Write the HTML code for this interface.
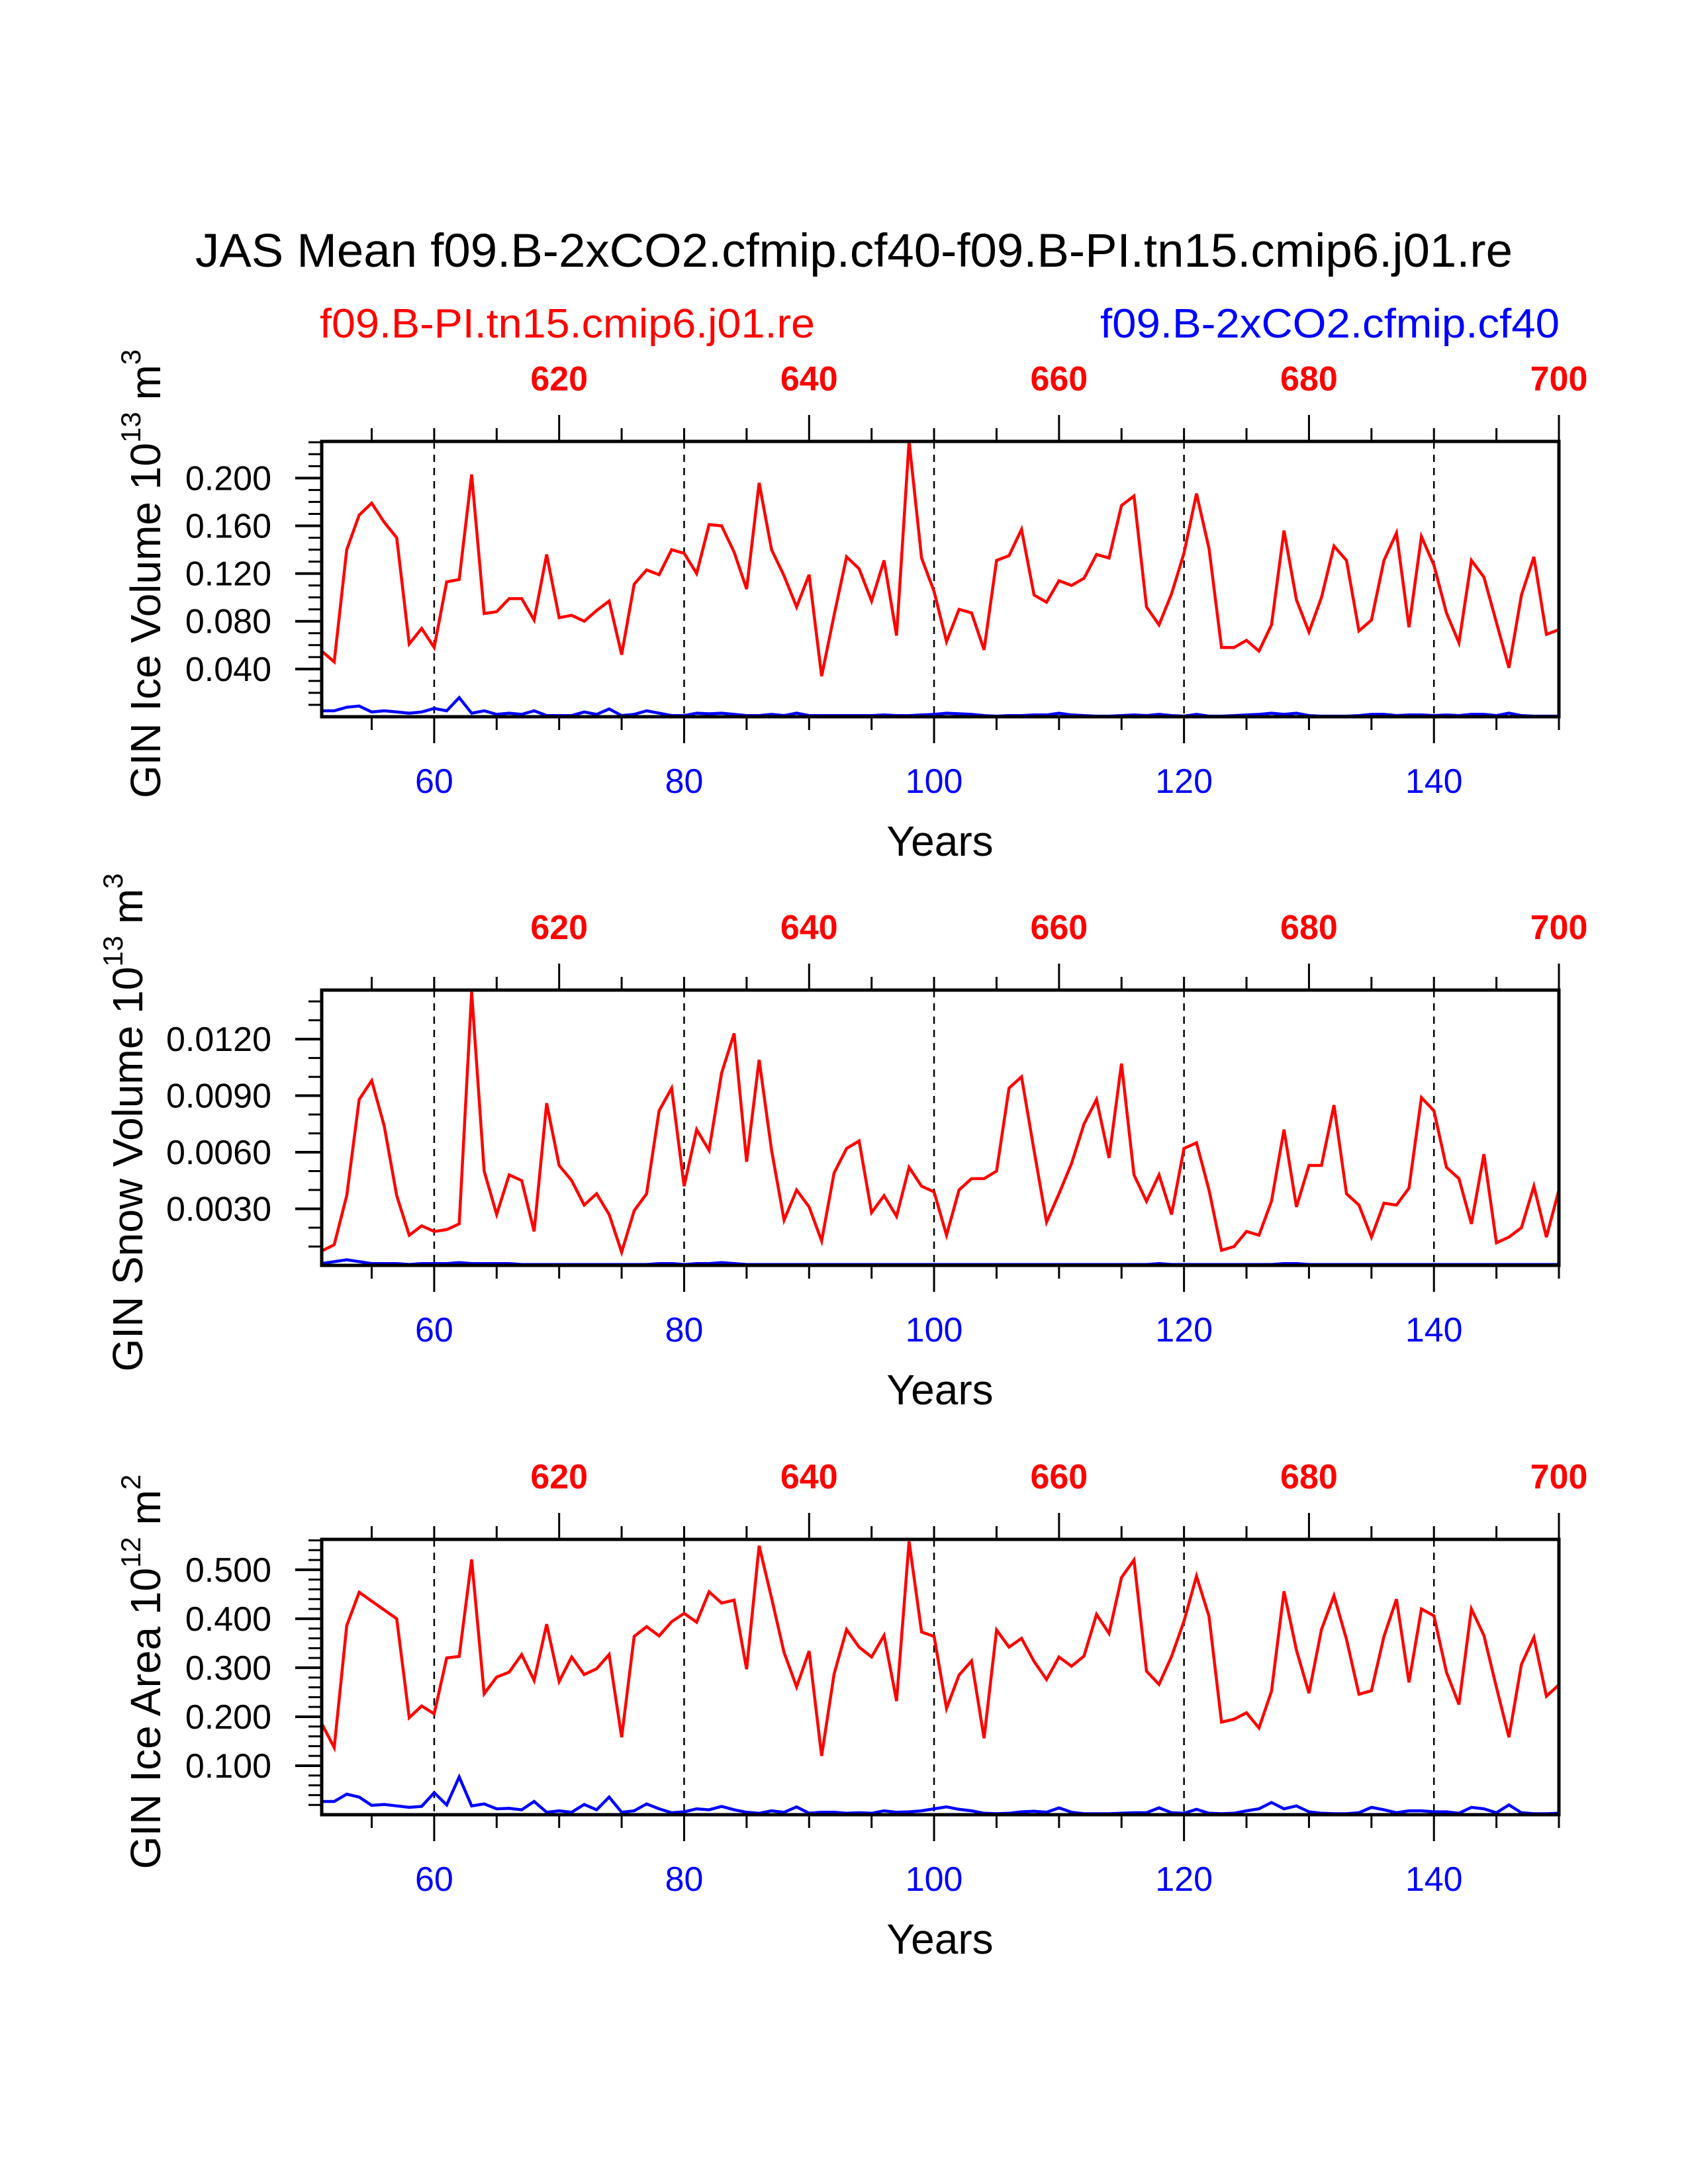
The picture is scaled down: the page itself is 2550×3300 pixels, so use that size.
<!DOCTYPE html>
<html><head><meta charset="utf-8"><style>
html,body{margin:0;padding:0;background:#fff;}
svg{display:block;font-family:"Liberation Sans",sans-serif;}
</style></head><body>
<svg id="chart" width="2550" height="3300" viewBox="0 0 2550 3300" xmlns="http://www.w3.org/2000/svg">
<rect width="2550" height="3300" fill="#fff"/>
<text x="295" y="403" font-size="71" textLength="1990" lengthAdjust="spacingAndGlyphs">JAS Mean f09.B-2xCO2.cfmip.cf40-f09.B-PI.tn15.cmip6.j01.re</text>
<text x="483" y="510" font-size="62" fill="#ff0000" textLength="748" lengthAdjust="spacingAndGlyphs">f09.B-PI.tn15.cmip6.j01.re</text>
<text x="1662" y="510" font-size="62" fill="#0000ff" textLength="694" lengthAdjust="spacingAndGlyphs">f09.B-2xCO2.cfmip.cf40</text>
</svg>
<script>
const years = [51,52,53,54,55,56,57,58,59,60,61,62,63,64,65,66,67,68,69,70,71,72,73,74,75,76,77,78,79,80,81,82,83,84,85,86,87,88,89,90,91,92,93,94,95,96,97,98,99,100,101,102,103,104,105,106,107,108,109,110,111,112,113,114,115,116,117,118,119,120,121,122,123,124,125,126,127,128,129,130,131,132,133,134,135,136,137,138,139,140,141,142,143,144,145,146,147,148,149,150];
const iceVolRed = [0.055,0.046,0.140,0.169,0.179,0.163,0.150,0.061,0.074,0.058,0.113,0.115,0.203,0.0865,0.088,0.099,0.099,0.081,0.136,0.083,0.085,0.080,0.089,0.097,0.052,0.111,0.123,0.119,0.140,0.137,0.120,0.161,0.160,0.138,0.107,0.196,0.140,0.118,0.092,0.119,0.034,0.085,0.134,0.124,0.097,0.131,0.068,0.231,0.133,0.105,0.063,0.090,0.087,0.056,0.131,0.135,0.157,0.102,0.096,0.114,0.110,0.116,0.136,0.133,0.177,0.185,0.092,0.077,0.103,0.137,0.187,0.141,0.058,0.058,0.064,0.055,0.077,0.156,0.098,0.071,0.100,0.143,0.131,0.072,0.081,0.131,0.154,0.075,0.151,0.127,0.087,0.062,0.131,0.117,0.079,0.041,0.102,0.134,0.069,0.073];
const iceVolBlue = [0.005,0.005,0.008,0.009,0.004,0.005,0.004,0.003,0.004,0.007,0.005,0.016,0.003,0.005,0.002,0.003,0.002,0.005,0.001,0.001,0.001,0.004,0.002,0.0065,0.001,0.002,0.005,0.003,0.001,0.001,0.003,0.0025,0.003,0.002,0.001,0.001,0.002,0.001,0.003,0.001,0.001,0.001,0.001,0.001,0.001,0.0015,0.001,0.001,0.0015,0.002,0.003,0.0025,0.002,0.001,0.0005,0.001,0.001,0.0015,0.0015,0.003,0.0015,0.001,0.0005,0.0005,0.001,0.0015,0.001,0.002,0.001,0.0005,0.002,0.0005,0.0005,0.001,0.0015,0.002,0.003,0.002,0.003,0.001,0.0005,0.0005,0.0005,0.001,0.002,0.002,0.001,0.0015,0.0015,0.001,0.0015,0.001,0.002,0.002,0.001,0.003,0.001,0.0005,0.0005,0.0005];
const snowRed = [0.00076,0.0011,0.0037,0.0088,0.0098,0.0074,0.0037,0.0016,0.0021,0.0018,0.0019,0.0022,0.0145,0.0050,0.0027,0.0048,0.0045,0.0018,0.0086,0.0053,0.0045,0.0032,0.0038,0.0027,0.0007,0.0029,0.0038,0.0082,0.0094,0.0042,0.0072,0.0061,0.0102,0.0123,0.0055,0.0109,0.0061,0.0024,0.0040,0.0031,0.0013,0.0049,0.0062,0.0066,0.0028,0.0037,0.0026,0.0052,0.0042,0.0039,0.0016,0.0040,0.0046,0.0046,0.0050,0.0094,0.0100,0.0061,0.0023,0.0038,0.0054,0.0075,0.0088,0.0057,0.0107,0.0048,0.0034,0.0048,0.0027,0.0062,0.0065,0.0040,0.0008,0.0010,0.0018,0.0016,0.0034,0.0072,0.0031,0.0053,0.0053,0.0085,0.0038,0.0032,0.0015,0.0033,0.0032,0.0041,0.0089,0.0082,0.0052,0.0046,0.0022,0.0059,0.0012,0.0015,0.0020,0.0042,0.0015,0.0040];
const snowBlue = [0.0001,0.0002,0.0003,0.0002,0.0001,0.0001,0.0001,0.00005,0.0001,0.0001,0.0001,0.00015,0.0001,0.0001,0.0001,0.0001,0.00005,0.00005,0.00005,0.00005,0.00005,0.00005,0.00005,0.00005,0.00005,0.00005,0.00005,0.0001,0.0001,0.00005,0.0001,0.0001,0.00015,0.0001,0.00005,0.00005,0.00005,0.00005,0.00005,0.00005,0.00005,0.00005,0.00005,0.00005,0.00005,0.00005,0.00005,0.00005,0.00005,0.00005,0.00005,0.00005,0.00005,0.00005,0.00005,0.00005,0.00005,0.00005,0.00005,0.00005,0.00005,0.00005,0.00005,0.00005,0.00005,0.00005,0.00005,0.0001,0.00005,0.00005,0.00005,0.00005,0.00005,0.00005,0.00005,0.00005,0.00005,0.0001,0.0001,0.00005,0.00005,0.00005,0.00005,0.00005,0.00005,0.00005,0.00005,0.00005,0.00005,0.00005,0.00005,0.00005,0.00005,0.00005,0.00005,0.00005,0.00005,0.00005,0.00005,0.00005];
const areaRed = [0.186,0.137,0.386,0.454,0.436,0.418,0.400,0.198,0.222,0.206,0.320,0.323,0.521,0.247,0.281,0.291,0.327,0.274,0.389,0.272,0.322,0.286,0.298,0.327,0.158,0.364,0.384,0.365,0.394,0.411,0.393,0.455,0.432,0.438,0.297,0.549,0.442,0.331,0.261,0.334,0.120,0.287,0.378,0.342,0.322,0.366,0.232,0.558,0.373,0.364,0.217,0.285,0.314,0.156,0.377,0.342,0.360,0.313,0.276,0.322,0.303,0.324,0.409,0.370,0.484,0.520,0.293,0.266,0.323,0.395,0.487,0.405,0.189,0.195,0.208,0.177,0.252,0.456,0.336,0.248,0.378,0.447,0.358,0.246,0.253,0.364,0.440,0.270,0.420,0.406,0.291,0.225,0.420,0.366,0.260,0.158,0.307,0.362,0.242,0.265];
const areaBlue = [0.027,0.027,0.042,0.036,0.019,0.021,0.018,0.015,0.017,0.045,0.020,0.077,0.018,0.022,0.012,0.013,0.010,0.027,0.005,0.008,0.005,0.021,0.010,0.036,0.005,0.008,0.022,0.012,0.004,0.006,0.012,0.010,0.017,0.010,0.005,0.003,0.008,0.005,0.016,0.003,0.005,0.005,0.003,0.004,0.003,0.008,0.005,0.006,0.008,0.012,0.016,0.011,0.008,0.003,0.002,0.003,0.006,0.007,0.005,0.014,0.005,0.002,0.002,0.002,0.003,0.004,0.004,0.014,0.004,0.003,0.011,0.003,0.002,0.003,0.008,0.012,0.025,0.012,0.018,0.006,0.003,0.002,0.002,0.004,0.015,0.010,0.004,0.008,0.008,0.006,0.006,0.003,0.015,0.012,0.004,0.020,0.004,0.002,0.002,0.003];
const bottomTickLabels = [60,80,100,120,140];
const topTickLabels = [620,640,660,680,700];
const iceVolTicks = [0.04,0.08,0.12,0.16,0.20];
const snowTicks = [0.003,0.006,0.009,0.012];
const areaTicks = [0.1,0.2,0.3,0.4,0.5];

const NS = 'http://www.w3.org/2000/svg';
const svg = document.getElementById('chart');
const X0 = 486, X1 = 2355, XMIN = 51, XMAX = 150, YOFF = 550;
function xs(v){ return X0 + (v - XMIN) / (XMAX - XMIN) * (X1 - X0); }
function mk(tag, attrs, parent){ const e = document.createElementNS(NS, tag); for (const k in attrs) e.setAttribute(k, attrs[k]); (parent||svg).appendChild(e); return e; }

function panel(cfg){
  const g = mk('g', {});
  
  
  const top = cfg.top, bot = cfg.top + 416;
  const ys = v => bot - (v - cfg.ymin) / (cfg.ymax - cfg.ymin) * (bot - top);
  bottomTickLabels.forEach(t => {
    const l = mk('line', {x1: xs(t), x2: xs(t), y1: top, y2: bot, stroke: '#000', 'stroke-width': 2.5, 'stroke-dasharray': '11 9'}, g);
    
    
  });
  for (let yr = 55; yr <= 150; yr += 5) {
    const major = bottomTickLabels.indexOf(yr) >= 0;
    const tk = mk('line', {x1: xs(yr), x2: xs(yr), y1: bot, y2: bot + (major ? 40 : 20), stroke: '#000', 'stroke-width': 3}, g);
    
    
    const tmajor = topTickLabels.indexOf(yr + YOFF) >= 0;
    const tt = mk('line', {x1: xs(yr), x2: xs(yr), y1: top, y2: top - (tmajor ? 40 : 20), stroke: '#000', 'stroke-width': 3}, g);
    
    
  }
  bottomTickLabels.forEach(t => {
    const tx = mk('text', {x: xs(t), y: bot + 115, 'font-size': 52, fill: '#0000ff', 'text-anchor': 'middle'}, g);
    tx.textContent = t;
    
    
  });
  topTickLabels.forEach(t => {
    const tx = mk('text', {x: xs(t - YOFF), y: top - 77, 'font-size': 52, fill: '#ff0000', 'font-weight': 'bold', 'text-anchor': 'middle'}, g);
    tx.textContent = t;
    
    
  });
  for (let k = 1; ; k++) {
    const v = cfg.ymin + k * cfg.minor;
    if (v > cfg.ymax + 1e-12) break;
    const mt = mk('line', {x1: X0, x2: X0 - 20, y1: ys(v), y2: ys(v), stroke: '#000', 'stroke-width': 3}, g);
    
    
  }
  cfg.ticks.forEach(v => {
    const mt = mk('line', {x1: X0, x2: X0 - 40, y1: ys(v), y2: ys(v), stroke: '#000', 'stroke-width': 4}, g);
    
    
    const tx = mk('text', {x: 410, y: ys(v) + 18, 'font-size': 52, 'text-anchor': 'end'}, g);
    tx.textContent = v.toFixed(cfg.dec);
    
    
  });
  [[cfg.red, '#ff0000', 'control-series-line'], [cfg.blue, '#0000ff', '2xco2-series-line']].forEach(s => {
    const pts = years.map((yr, i) => xs(yr).toFixed(1) + ',' + ys(s[0][i]).toFixed(1)).join(' ');
    const pl = mk('polyline', {points: pts, fill: 'none', stroke: s[1], 'stroke-width': 4.5, 'stroke-linejoin': 'miter'}, g);
    
    
  });
  const fr = mk('rect', {x: X0, y: top, width: X1 - X0, height: bot - top, fill: 'none', stroke: '#000', 'stroke-width': 5}, g);
  
  
  const xt = mk('text', {x: 1420, y: bot + 210, 'font-size': 64, 'text-anchor': 'middle'}, g);
  xt.textContent = 'Years';
  
  
  const cy = (top + bot) / 2 - 8;
  const yt = mk('text', {transform: 'translate(' + cfg.titleX + ',' + cy + ') rotate(-90)', 'font-size': 64, 'text-anchor': 'middle'}, g);
  
  
  const a = mk('tspan', {}, yt); a.textContent = cfg.title + ' 10';
  const b = mk('tspan', {dy: -30, 'font-size': 42}, yt); b.textContent = cfg.exp;
  const c = mk('tspan', {dy: 30}, yt); c.textContent = ' m';
  const d = mk('tspan', {dy: -30, 'font-size': 42}, yt); d.textContent = cfg.unitExp;
}

panel({name: 'ice-volume-panel', top: 667, ymin: 0, ymax: 0.2307, minor: 0.01, ticks: iceVolTicks, dec: 3, red: iceVolRed, blue: iceVolBlue, title: 'GIN Ice Volume', exp: '13', unitExp: '3', titleX: 242});
panel({name: 'snow-volume-panel', top: 1496, ymin: 0, ymax: 0.0146, minor: 0.001, ticks: snowTicks, dec: 4, red: snowRed, blue: snowBlue, title: 'GIN Snow Volume', exp: '13', unitExp: '3', titleX: 215});
panel({name: 'ice-area-panel', top: 2326, ymin: 0, ymax: 0.562, minor: 0.02, ticks: areaTicks, dec: 3, red: areaRed, blue: areaBlue, title: 'GIN Ice Area', exp: '12', unitExp: '2', titleX: 242});
</script>
</body></html>
